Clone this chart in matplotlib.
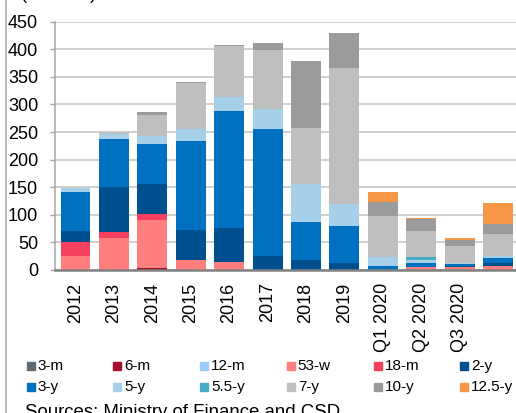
import numpy as np
import matplotlib
matplotlib.use('Agg')
import matplotlib.pyplot as plt
from matplotlib.patches import Rectangle
from matplotlib.lines import Line2D

plt.rcParams['font.family'] = ['Liberation Sans', 'DejaVu Sans']

periods = ["2012", "2013", "2014", "2015", "2016", "2017", "2018", "2019",
           "Q1 2020", "Q2 2020", "Q3 2020", ""]
maturities = ["3-m", "6-m", "12-m", "53-w", "18-m", "2-y",
              "3-y", "5-y", "5.5-y", "7-y", "10-y", "12.5-y"]
colors = ["#5F6B73", "#A50F2D", "#99CCFF", "#FF7F7F", "#F54060", "#00508F",
          "#0070C0", "#A6CFEA", "#4BACC6", "#BFBFBF", "#9B9B9B", "#F79646"]

# issued amounts per maturity, one value per period
m3   = [0, 0, 0, 0, 0, 0, 0, 0, 0, 0, 0, 0]
m6   = [0, 0, 4, 0, 0, 0, 0, 0, 0, 0, 0, 0]
m12  = [0, 0, 0, 0, 0, 0, 0, 0, 0, 0, 0, 0]
w53  = [26, 58, 87, 19, 15, 0, 0, 0, 0, 5, 5, 8]
m18  = [25, 11, 11, 0, 0, 0, 0, 0, 0, 0, 0, 0]
y2   = [19, 82, 53, 54, 61, 26, 19, 12, 0, 0, 2, 4]
y3   = [71, 87, 73, 161, 212, 230, 68, 68, 8, 7, 3, 10]
y5   = [8, 8, 14, 21, 26, 36, 68, 40, 15, 7, 3, 4]
y5_5 = [0, 0, 0, 0, 0, 0, 0, 0, 0, 4, 0, 0]
y7   = [0, 4, 39, 83, 92, 107, 102, 246, 75, 47, 31, 39]
y10  = [0, 0, 5, 3, 2, 13, 121, 64, 25, 22, 10, 18]
y12_5 = [0, 0, 0, 0, 0, 0, 0, 0, 18, 3, 4, 39]

series = [m3, m6, m12, w53, m18, y2, y3, y5, y5_5, y7, y10, y12_5]

W, H = 516, 413
fig = plt.figure(figsize=(W / 100, H / 100), dpi=100)
ax = fig.add_axes([55 / W, 1 - 270 / H, (W - 55) / W, (270 - 21.7) / H])

x = np.arange(len(periods))
bottom = np.zeros(len(periods))
for vals, col in zip(series, colors):
    vals = np.array(vals, dtype=float)
    ax.bar(x, vals, 0.78, bottom=bottom, color=col, linewidth=0, zorder=3)
    bottom += vals

ax.set_xlim(-0.534, 11.47)
ax.set_ylim(0, 450)
ax.set_yticks(np.arange(0, 451, 50))
ax.set_xticks(x)
ax.set_xticklabels(periods, rotation=90, fontsize=13)
ax.tick_params(axis='x', length=0, pad=9)
ax.tick_params(axis='y', length=3.6, width=1, color="#A6A6A6", pad=8.5, labelsize=13)
ax.yaxis.grid(True, color="#C4C4C4", linewidth=1.1, zorder=0)
ax.set_axisbelow(True)
for side in ("top", "right"):
    ax.spines[side].set_visible(False)
ax.spines["left"].set_color("#A6A6A6")
ax.spines["left"].set_linewidth(1.1)
ax.spines["bottom"].set_color("#808080")
ax.spines["bottom"].set_linewidth(1.8)
ax.spines["bottom"].set_zorder(4)

# legend laid out in two rows of six
for i, (name, col) in enumerate(zip(maturities, colors)):
    r, c = divmod(i, 6)
    x0 = 26.7 + 86.7 * c
    yc = 366 + 20.7 * r
    fig.patches.append(Rectangle((x0 / W, 1 - (yc + 4) / H), 8 / W, 8 / H,
                                 transform=fig.transFigure, color=col))
    fig.text((x0 + 11) / W, 1 - yc / H, name, fontsize=11, va='center', ha='left')

fig.text(21 / W, 1 + 1.5 / H, "(RSD bn)", fontsize=13, va='baseline', ha='left')
fig.text(25 / W, 1 - 404 / H, "Sources: Ministry of Finance and CSD",
         fontsize=13.4, va='top', ha='left')
fig.add_artist(Line2D([6 / W, 6 / W], [0, 1], transform=fig.transFigure,
                      color="#BDBDBD", linewidth=1.5))

fig.savefig("out.png", dpi=100)
